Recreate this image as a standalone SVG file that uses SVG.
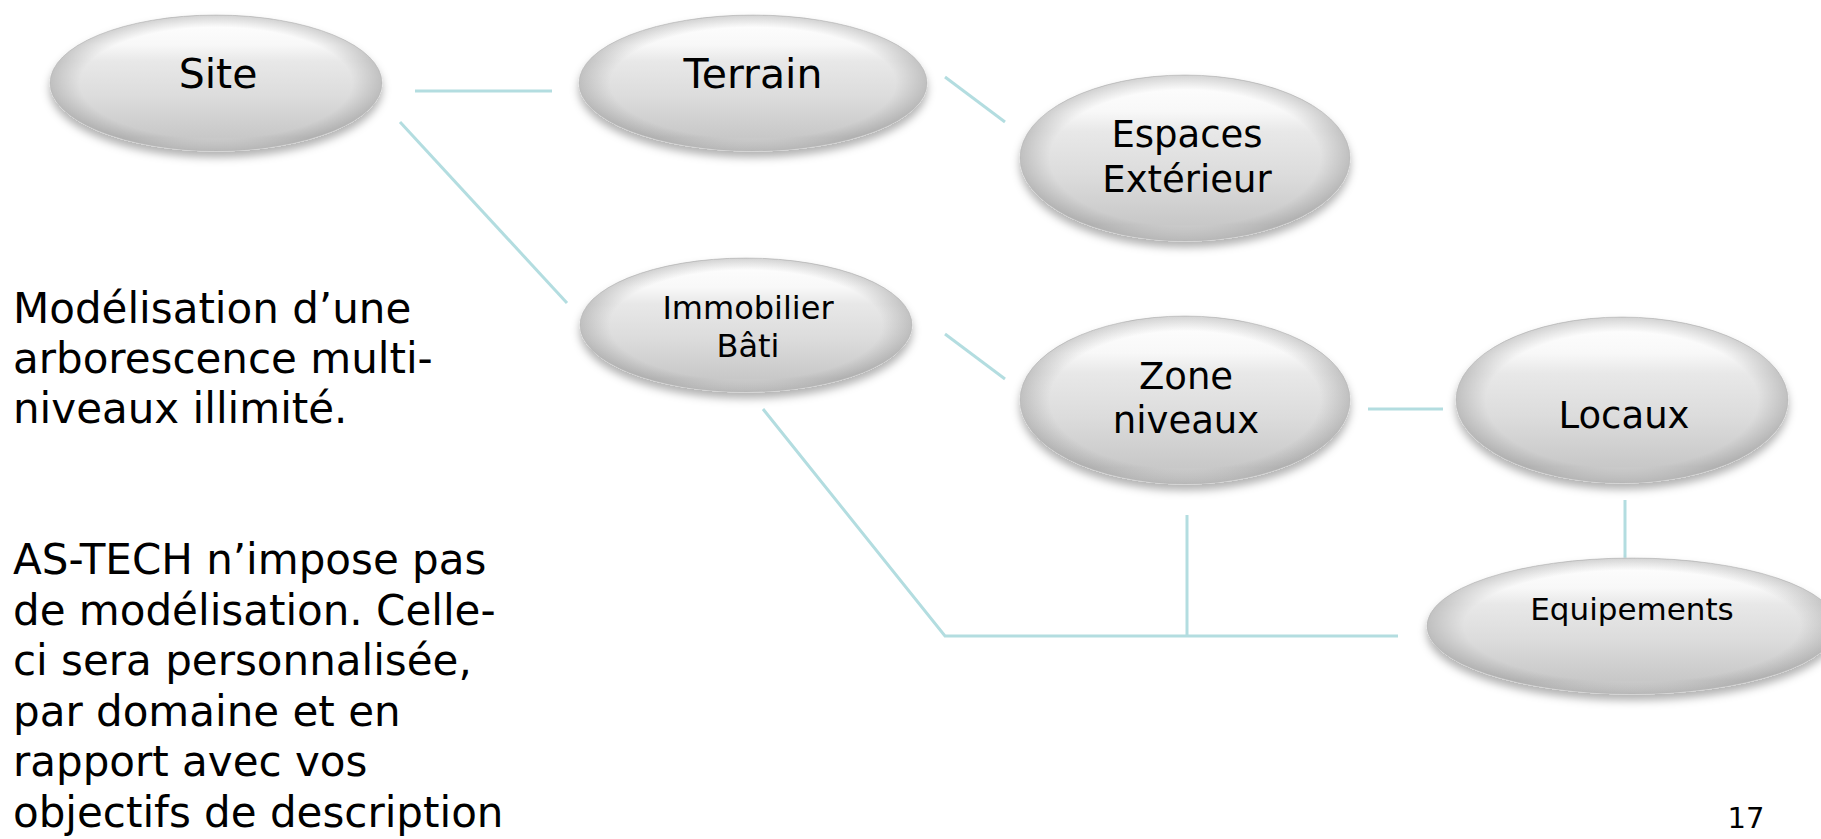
<svg xmlns="http://www.w3.org/2000/svg" width="1821" height="839" viewBox="0 0 1821 839">
<style>
.node{fill:url(#body);stroke:#d2d2d2;stroke-width:1}
.edge{fill:url(#rim)}
.lbl{font-family:"DejaVu Sans",Verdana,sans-serif;fill:#000;text-anchor:middle}
.conn{fill:none;stroke:#b3dde0;stroke-width:3}
.txt{font-family:"DejaVu Sans",Verdana,sans-serif;font-size:42px;fill:#000}
</style>
<defs>
<linearGradient id="body" x1="0" y1="0" x2="0" y2="1">
<stop offset="0" stop-color="#ffffff"/>
<stop offset="0.22" stop-color="#f8f8f8"/>
<stop offset="0.34" stop-color="#e8e8e8"/>
<stop offset="0.6" stop-color="#dcdcdc"/>
<stop offset="0.9" stop-color="#c8c8c8"/>
<stop offset="1" stop-color="#d6d6d6"/>
</linearGradient>
<radialGradient id="rim" cx="0.5" cy="0.5" r="0.5">
<stop offset="0.82" stop-color="#808080" stop-opacity="0"/>
<stop offset="1" stop-color="#808080" stop-opacity="0.35"/>
</radialGradient>
<filter id="sh" x="-10%" y="-10%" width="120%" height="140%">
<feDropShadow dx="0" dy="6" stdDeviation="4" flood-color="#000" flood-opacity="0.3"/>
</filter>
</defs>

<g id="connectors">
<path class="conn" d="M415 91H552"/>
<path class="conn" d="M400 122L567 303"/>
<path class="conn" d="M945 77L1005 122"/>
<path class="conn" d="M945 334L1005 379"/>
<path class="conn" d="M1368 409H1443"/>
<path class="conn" d="M1625 500V559"/>
<path class="conn" d="M763 409L945 636H1398"/>
<path class="conn" d="M1187 515V636"/>
</g>

<g id="site">
<ellipse class="node" cx="216" cy="83" rx="166" ry="68" filter="url(#sh)"/>
<ellipse class="edge" cx="216" cy="83" rx="166" ry="68"/>
<text class="lbl" x="218" y="88" font-size="41">Site</text>
</g>

<g id="terrain">
<ellipse class="node" cx="753" cy="83" rx="174" ry="68" filter="url(#sh)"/>
<ellipse class="edge" cx="753" cy="83" rx="174" ry="68"/>
<text class="lbl" x="753" y="88" font-size="41">Terrain</text>
</g>

<g id="espaces">
<ellipse class="node" cx="1185" cy="158" rx="165" ry="83" filter="url(#sh)"/>
<ellipse class="edge" cx="1185" cy="158" rx="165" ry="83"/>
<text class="lbl" x="1187" y="147" font-size="37">Espaces</text>
<text class="lbl" x="1187" y="192" font-size="37">Extérieur</text>
</g>

<g id="immobilier">
<ellipse class="node" cx="746" cy="325" rx="166" ry="67" filter="url(#sh)"/>
<ellipse class="edge" cx="746" cy="325" rx="166" ry="67"/>
<text class="lbl" x="748" y="319" font-size="32">Immobilier</text>
<text class="lbl" x="748" y="357" font-size="32">Bâti</text>
</g>

<g id="zone">
<ellipse class="node" cx="1185" cy="400" rx="165" ry="84" filter="url(#sh)"/>
<ellipse class="edge" cx="1185" cy="400" rx="165" ry="84"/>
<text class="lbl" x="1186" y="389" font-size="37">Zone</text>
<text class="lbl" x="1186" y="433" font-size="37">niveaux</text>
</g>

<g id="locaux">
<ellipse class="node" cx="1622" cy="400" rx="166" ry="83" filter="url(#sh)"/>
<ellipse class="edge" cx="1622" cy="400" rx="166" ry="83"/>
<text class="lbl" x="1624" y="428" font-size="37">Locaux</text>
</g>

<g id="equipements">
<ellipse class="node" cx="1632" cy="626" rx="205" ry="68" filter="url(#sh)"/>
<ellipse class="edge" cx="1632" cy="626" rx="205" ry="68"/>
<text class="lbl" x="1632" y="620" font-size="31">Equipements</text>
</g>

<g id="description">
<text class="txt" x="13" y="323">Modélisation d’une</text>
<text class="txt" x="13" y="373">arborescence multi-</text>
<text class="txt" x="13" y="423">niveaux illimité.</text>
<text class="txt" x="13" y="574">AS-TECH n’impose pas</text>
<text class="txt" x="13" y="625">de modélisation. Celle-</text>
<text class="txt" x="13" y="675">ci sera personnalisée,</text>
<text class="txt" x="13" y="726">par domaine et en</text>
<text class="txt" x="13" y="776">rapport avec vos</text>
<text class="txt" x="13" y="827">objectifs de description</text>
</g>

<g id="page-number">
<text class="lbl" x="1746" y="828" font-size="29">17</text>
</g>
</svg>
